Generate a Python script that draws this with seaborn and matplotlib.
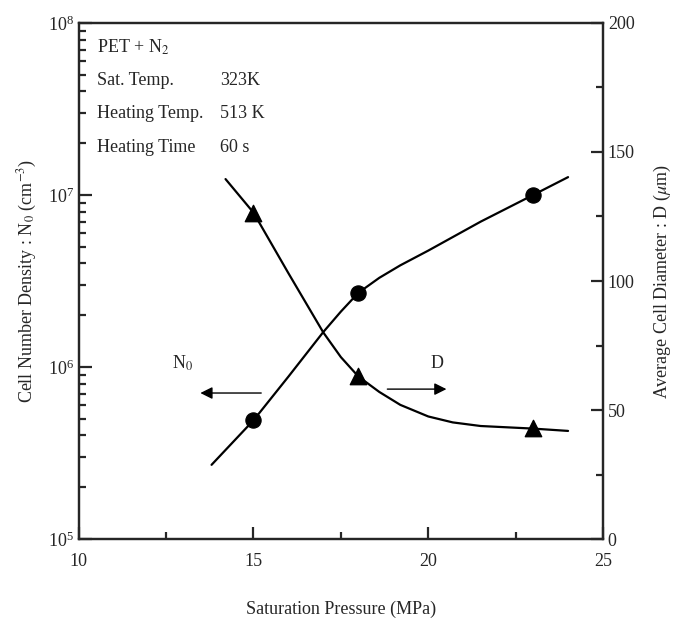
import numpy as np
import pandas as pd
import matplotlib
matplotlib.use("Agg")
import matplotlib.pyplot as plt
import seaborn as sns
from matplotlib.ticker import LogFormatterMathtext, MultipleLocator, LogLocator

# measured points
pressure_pts = [15, 18, 23]
n0_pts = [4.9e5, 2.7e6, 1.0e7]
d_pts = [126.5, 63, 43]

# fitted curves
n0_curve_x = [13.8, 15.0, 16.0, 17.0, 17.5, 18.0, 18.6, 19.2, 20.0, 21.5, 23.0, 24.0]
n0_curve_y = [2.7e5, 4.9e5, 8.8e5, 1.6e6, 2.1e6, 2.7e6, 3.3e6, 3.9e6, 4.75e6, 7.0e6, 1.0e7, 1.27e7]
d_curve_x = [14.2, 15.0, 16.0, 17.0, 17.5, 18.0, 18.6, 19.2, 20.0, 20.7, 21.5, 23.0, 24.0]
d_curve_y = [139.5, 126.5, 103, 80, 70.5, 63, 57, 52, 47.5, 45.2, 43.8, 42.8, 41.9]

sns.set_style("ticks")
plt.rcParams['font.family'] = ['Liberation Serif', 'DejaVu Serif']
plt.rcParams['mathtext.fontset'] = 'stix'
plt.rcParams['font.size'] = 12

fig = plt.figure(figsize=(6.73, 6.21), dpi=100)
ax = fig.add_axes([0.117, 0.132, 0.779, 0.831])
ax2 = ax.twinx()

sns.lineplot(x=n0_curve_x, y=n0_curve_y, ax=ax, color='black', lw=1.6)
sns.scatterplot(x=pressure_pts, y=n0_pts, ax=ax, color='black', s=120, marker='o', edgecolor='black', zorder=5)
sns.lineplot(x=d_curve_x, y=d_curve_y, ax=ax2, color='black', lw=1.6)
sns.scatterplot(x=pressure_pts, y=d_pts, ax=ax2, color='black', s=140, marker='^', edgecolor='black', zorder=5)

ax.set_yscale('log')
ax.set_xlim(10, 25)
ax.set_ylim(1e5, 1e8)
ax2.set_ylim(0, 200)

ax.xaxis.set_major_locator(MultipleLocator(5))
ax.xaxis.set_minor_locator(MultipleLocator(2.5))
ax.yaxis.set_major_locator(LogLocator(base=10))
ax.yaxis.set_minor_locator(LogLocator(base=10, subs=np.arange(2, 10)))
ax.yaxis.set_major_formatter(LogFormatterMathtext())
ax2.yaxis.set_major_locator(MultipleLocator(50))
ax2.yaxis.set_minor_locator(MultipleLocator(25))

for a in (ax, ax2):
    for sp in a.spines.values():
        sp.set_linewidth(1.6)
        sp.set_visible(True)
    a.tick_params(which='major', direction='in', length=9, width=1.6, labelsize=13)
    a.tick_params(which='minor', direction='in', length=5, width=1.6)
ax.tick_params(axis='x', pad=10)
ax.tick_params(top=False, which='both')

ax.set_xlabel('Saturation Pressure (MPa)', fontsize=13, labelpad=22)
ax.set_ylabel('Cell Number Density : N$_0$ (cm$^{-3}$)', fontsize=13, labelpad=6)
ax2.set_ylabel('Average Cell Diameter : D ($\\mu$m)', fontsize=13, labelpad=12)

# condition box text
ax.text(0.034, 0.953, 'PET + N$_2$', transform=ax.transAxes, fontsize=13, va='center')
ax.text(0.034, 0.888, 'Sat. Temp.', transform=ax.transAxes, fontsize=13, va='center')
ax.text(0.269, 0.888, '323K', transform=ax.transAxes, fontsize=13, va='center')
ax.text(0.034, 0.824, 'Heating Temp.', transform=ax.transAxes, fontsize=13, va='center')
ax.text(0.269, 0.824, '513 K', transform=ax.transAxes, fontsize=13, va='center')
ax.text(0.034, 0.758, 'Heating Time', transform=ax.transAxes, fontsize=13, va='center')
ax.text(0.269, 0.758, '60 s', transform=ax.transAxes, fontsize=13, va='center')

# series labels with arrows
ax.text(12.98, 1.05e6, 'N$_0$', fontsize=13, ha='center', va='center')
ax.annotate('', xy=(13.4, 7.06e5), xytext=(15.3, 7.06e5),
            arrowprops=dict(arrowstyle='-|>', color='black', lw=1, mutation_scale=18))
ax2.text(20.25, 68.2, 'D', fontsize=13, ha='center', va='center')
ax2.annotate('', xy=(20.6, 58.1), xytext=(18.75, 58.1),
             arrowprops=dict(arrowstyle='-|>', color='black', lw=1, mutation_scale=18))

fig.savefig('out.png', dpi=100)
